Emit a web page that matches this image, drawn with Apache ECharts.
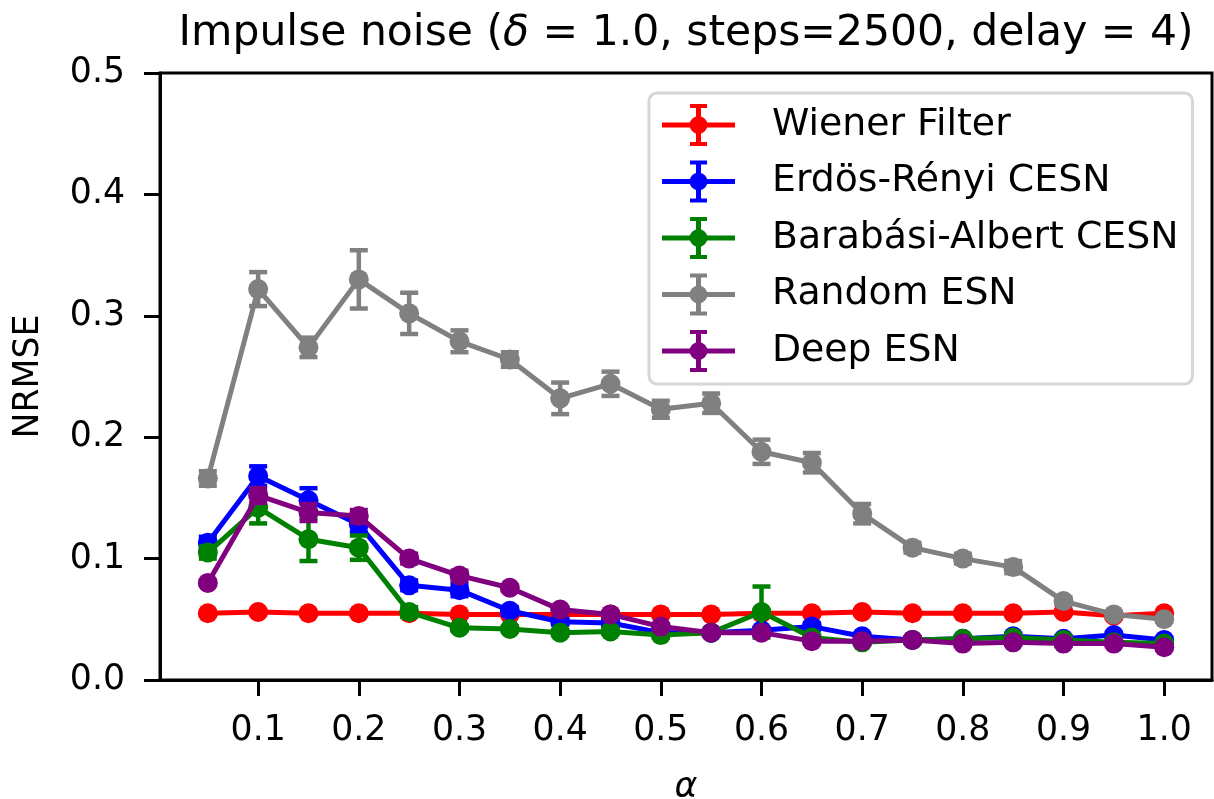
<!DOCTYPE html>
<html>
<head>
<meta charset="utf-8">
<script src="https://cdn.jsdelivr.net/npm/echarts@6/dist/echarts.min.js"></script>
<style>html,body{margin:0;padding:0;background:#fff;overflow:hidden;}#chart{width:1214px;height:799px;}</style>
</head>
<body>
<div id="chart"></div>
<script>
const alphas = [0.05,0.1,0.15,0.2,0.25,0.3,0.35,0.4,0.45,0.5,0.55,0.6,0.65,0.7,0.75,0.8,0.85,0.9,0.95,1.0];
const xTicks = [0.1,0.2,0.3,0.4,0.5,0.6,0.7,0.8,0.9,1.0];
const seriesNames = ['Wiener Filter','Erdös-Rényi CESN','Barabási-Albert CESN','Random ESN','Deep ESN'];
const wiener    = [0.055,0.056,0.055,0.055,0.055,0.054,0.054,0.054,0.054,0.054,0.054,0.055,0.055,0.056,0.055,0.055,0.055,0.056,0.053,0.055];
const wienerErr = [0.001,0.001,0.001,0.001,0.001,0.001,0.001,0.001,0.001,0.001,0.001,0.001,0.001,0.001,0.001,0.001,0.001,0.001,0.001,0.001];
const erdos     = [0.113,0.168,0.148,0.128,0.078,0.074,0.057,0.048,0.047,0.039,0.039,0.041,0.044,0.036,0.033,0.034,0.036,0.034,0.037,0.033];
const erdosErr  = [0.005,0.008,0.010,0.006,0.004,0.005,0.003,0.002,0.002,0.002,0.002,0.002,0.003,0.002,0.002,0.002,0.002,0.002,0.002,0.002];
const barabasi  = [0.105,0.142,0.116,0.109,0.056,0.043,0.042,0.039,0.040,0.037,0.039,0.056,0.035,0.031,0.033,0.034,0.035,0.033,0.031,0.030];
const barabasiErr=[0.005,0.013,0.018,0.010,0.004,0.002,0.002,0.002,0.002,0.002,0.002,0.021,0.002,0.002,0.002,0.002,0.002,0.002,0.002,0.002];
const randomEsn = [0.166,0.322,0.274,0.330,0.302,0.279,0.264,0.232,0.244,0.223,0.228,0.188,0.179,0.137,0.109,0.100,0.093,0.065,0.054,0.050];
const randomErr = [0.006,0.014,0.008,0.024,0.017,0.009,0.006,0.013,0.010,0.007,0.008,0.010,0.008,0.008,0.004,0.004,0.005,0.003,0.002,0.002];
const deepEsn   = [0.080,0.152,0.138,0.135,0.100,0.086,0.076,0.058,0.054,0.044,0.039,0.039,0.032,0.032,0.033,0.030,0.031,0.030,0.030,0.027];
const deepErr   = [0.001,0.006,0.007,0.005,0.004,0.004,0.002,0.002,0.002,0.002,0.002,0.002,0.002,0.002,0.002,0.002,0.002,0.002,0.002,0.002];
const colors = ['#ff0000','#0000ff','#008000','#808080','#800080'];

const allVals = [wiener, erdos, barabasi, randomEsn, deepEsn];
const allErrs = [wienerErr, erdosErr, barabasiErr, randomErr, deepErr];
const FONT = 'DejaVu Sans';
const LW = 5;

const legendIcon = 'path://M0 18.5H73V23.5H0Z M34 0H39V42H34Z M28 0H45V4H28Z M28 38H45V42H28Z M27.5 21A9 9 0 1 1 45.5 21A9 9 0 1 1 27.5 21Z';

function errRender(color) {
  return function (params, api) {
    const x = api.value(0), y = api.value(1), e = api.value(2);
    const top = api.coord([x, y + e]);
    const bot = api.coord([x, y - e]);
    const hw = 9;
    const style = { stroke: color, lineWidth: 4.5, fill: null };
    return {
      type: 'group',
      children: [
        { type: 'line', shape: { x1: top[0], y1: top[1], x2: bot[0], y2: bot[1] }, style: style },
        { type: 'line', shape: { x1: top[0] - hw, y1: top[1], x2: top[0] + hw, y2: top[1] }, style: style },
        { type: 'line', shape: { x1: bot[0] - hw, y1: bot[1], x2: bot[0] + hw, y2: bot[1] }, style: style }
      ]
    };
  };
}

const series = [];
seriesNames.forEach(function (name, k) {
  series.push({
    type: 'custom',
    name: name + ' err',
    renderItem: errRender(colors[k]),
    data: alphas.map(function (a, i) { return [a, allVals[k][i], allErrs[k][i]]; }),
    encode: { x: 0, y: 1 },
    z: 10 + 2 * k,
    silent: true
  });
  series.push({
    type: 'line',
    name: name,
    data: alphas.map(function (a, i) { return [a, allVals[k][i]]; }),
    symbol: 'circle',
    symbolSize: 20,
    showAllSymbol: true,
    lineStyle: { color: colors[k], width: LW },
    itemStyle: { color: colors[k], borderWidth: 0 },
    z: 11 + 2 * k,
    animation: false
  });
});

const chart = echarts.init(document.getElementById('chart'), null, { renderer: 'canvas', width: 1214, height: 799 });
chart.setOption({
  animation: false,
  backgroundColor: '#ffffff',
  textStyle: { fontFamily: FONT },
  title: {
    text: 'Impulse noise ({i|δ} = 1.0, steps=2500, delay = 4)',
    left: 681,
    top: 7,
    textAlign: 'center',
    textStyle: {
      fontFamily: FONT, fontSize: 42.5, fontWeight: 'normal', color: '#000',
      rich: { i: { fontFamily: FONT, fontSize: 42.5, fontStyle: 'italic', color: '#000' } }
    }
  },
  grid: {
    left: 160, top: 73, width: 1052, height: 607,
    outerBoundsMode: 'none',
    containLabel: false,
    show: true, borderColor: '#000', borderWidth: 3, backgroundColor: 'transparent'
  },
  legend: {
    orient: 'vertical',
    left: 649, top: 93,
    data: seriesNames.map(function (n) { return { name: n, icon: legendIcon }; }),
    itemWidth: 73, itemHeight: 42, itemGap: 14.5,
    padding: [11, 14, 12, 13],
    backgroundColor: 'rgba(255,255,255,0.8)',
    borderColor: '#d6d6d6', borderWidth: 3, borderRadius: 8,
    itemStyle: { borderWidth: 0 },
    textStyle: { fontFamily: FONT, fontSize: 37.8, color: '#000', padding: [0, 0, 0, 32] }
  },
  xAxis: {
    type: 'value',
    min: 0.0025, max: 1.0475,
    name: 'α',
    nameLocation: 'middle',
    nameGap: 90,
    nameTextStyle: { fontFamily: FONT, fontSize: 34.7, fontStyle: 'italic', color: '#000' },
    axisLine: { show: true, onZero: false, lineStyle: { color: '#000', width: 3 } },
    axisTick: { show: true, inside: false, length: 16, lineStyle: { color: '#000', width: 3 }, customValues: xTicks },
    axisLabel: {
      show: true, margin: 33, fontFamily: FONT, fontSize: 34.7, color: '#000',
      customValues: xTicks,
      formatter: function (v) { return v.toFixed(1); }
    },
    splitLine: { show: false }
  },
  yAxis: {
    type: 'value',
    min: 0, max: 0.5, interval: 0.1,
    name: 'NRMSE',
    nameLocation: 'middle',
    nameGap: 114,
    nameTextStyle: { fontFamily: FONT, fontSize: 34.7, color: '#000' },
    axisLine: { show: true, onZero: false, lineStyle: { color: '#000', width: 3 } },
    axisTick: { show: true, inside: false, length: 16, lineStyle: { color: '#000', width: 3 } },
    axisLabel: {
      show: true, margin: 35, fontFamily: FONT, fontSize: 34.7, color: '#000',
      formatter: function (v) { return v.toFixed(1); }
    },
    splitLine: { show: false }
  },
  series: series
});
</script>
</body>
</html>
